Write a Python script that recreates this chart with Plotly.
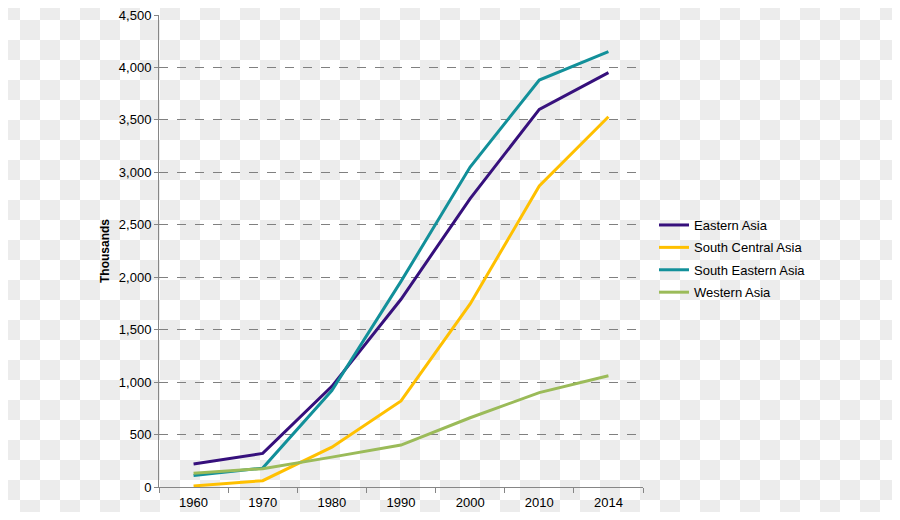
import base64
import plotly.graph_objects as go

years = ["1960", "1970", "1980", "1990", "2000", "2010", "2014"]
eastern_asia = [220, 320, 960, 1790, 2750, 3600, 3950]
south_central_asia = [10, 60, 380, 820, 1745, 2870, 3530]
south_eastern_asia = [110, 180, 920, 1960, 3050, 3880, 4150]
western_asia = [130, 175, 285, 400, 660, 900, 1060]
y_ticks = [0, 500, 1000, 1500, 2000, 2500, 3000, 3500, 4000, 4500]

series = [
    ("Eastern Asia", eastern_asia, "#36107c"),
    ("South Central Asia", south_central_asia, "#ffc000"),
    ("South Eastern Asia", south_eastern_asia, "#12909a"),
    ("Western Asia", western_asia, "#9bbb59"),
]

fig = go.Figure()
for name, vals, col in series:
    fig.add_trace(go.Scatter(x=years, y=vals, name=name, mode="lines",
                             legendgroup=name,
                             line=dict(color=col, width=3)))

# page body has an 8px margin; the figure is sized to fit inside the window
OFF = 8
W, H = 900 - 2 * OFF, 520 - 2 * OFF
L, T = 159 - OFF, 15 - OFF
pw, ph = 484, 472
R, B = W - L - pw, H - T - ph

# checkerboard background (transparent-image look), aligned to page origin
svg = ('<svg xmlns="http://www.w3.org/2000/svg" width="%d" height="%d">'
       '<defs><pattern id="p" x="-%d" y="-%d" width="40" height="40" patternUnits="userSpaceOnUse">'
       '<rect width="40" height="40" fill="#ffffff"/>'
       '<rect x="0" y="0" width="20" height="20" fill="#ececec"/>'
       '<rect x="20" y="20" width="20" height="20" fill="#ececec"/>'
       '</pattern></defs><rect width="%d" height="%d" fill="url(#p)"/></svg>'
       % (W, H, OFF, OFF, W, H))
uri = "data:image/svg+xml;base64," + base64.b64encode(svg.encode()).decode()

fig.add_layout_image(dict(source=uri, xref="paper", yref="paper",
                          x=-L / pw, y=1 + T / ph, sizex=W / pw, sizey=H / ph,
                          xanchor="left", yanchor="top", sizing="stretch",
                          layer="below"))

fig.update_layout(
    width=W, height=H,
    margin=dict(l=L, r=R, t=T, b=B, autoexpand=False),
    paper_bgcolor="rgba(0,0,0,0)",
    plot_bgcolor="rgba(0,0,0,0)",
    font=dict(family="Liberation Sans, Arial, sans-serif", size=13, color="#000000"),
    showlegend=True,
    legend=dict(x=1.0227, y=0.483, xanchor="left", yanchor="middle",
                bgcolor="rgba(0,0,0,0)", font=dict(size=13),
                tracegroupgap=2.5, itemwidth=30),
    xaxis=dict(type="category", range=[-0.5, 6.5], tickson="boundaries",
               showline=True, linecolor="#868686", linewidth=1,
               ticks="outside", ticklen=5, tickcolor="#868686",
               ticklabelstandoff=3, automargin=False,
               showgrid=False, zeroline=False),
    yaxis=dict(range=[0, 4500], tickvals=y_ticks, tickformat=",d",
               showline=True, linecolor="#868686", linewidth=1,
               ticks="outside", ticklen=4, tickcolor="#868686",
               showgrid=True, gridcolor="#808080", griddash="dash", gridwidth=1,
               zeroline=False, automargin=False, ticklabeloverflow="allow",
               title=dict(text="<b>Thousands</b>", font=dict(size=12), standoff=6)),
)

fig.write_html("out.html")
